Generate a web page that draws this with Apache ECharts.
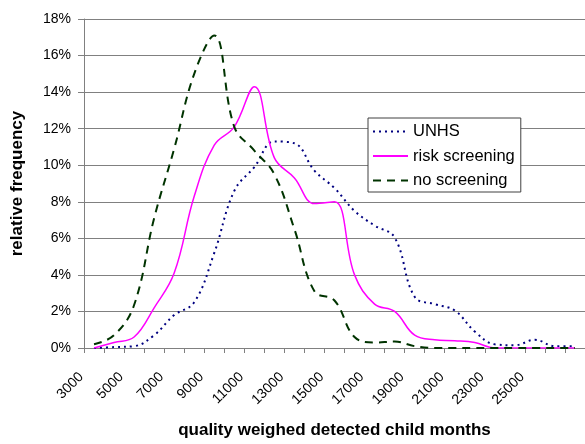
<!DOCTYPE html>
<html><head><meta charset="utf-8">
<script src="https://cdn.jsdelivr.net/npm/echarts@6/dist/echarts.min.js"></script>
<style>html,body{margin:0;padding:0;background:#fff}#c{width:585px;height:444px}</style>
</head><body><div id="c"></div>
<script>
var categories = ['3000','4000','5000','6000','7000','8000','9000','10000','11000','12000','13000','14000','15000','16000','17000','18000','19000','20000','21000','22000','23000','24000','25000','26000','27000'];
var unhs = [0,0.05,0.1,0.7,1.8,2.5,5.2,8.6,9.9,11.3,11.2,9.7,8.75,7.5,6.7,6.05,2.8,2.4,2.05,0.9,0.2,0.15,0.45,0.1,0.1];
var riskScreening = [0,0.3,0.6,2.2,4.1,8.3,11.1,12.1,14.3,10.4,9.3,7.9,8.0,4.0,2.4,2.0,0.7,0.45,0.4,0.3,0,0,0,0,0];
var noScreening = [0.2,0.7,2.35,7.1,10.9,15.0,17.1,12.1,10.8,9.5,6.5,3.1,2.6,0.6,0.3,0.35,0.1,0,0,0,0,0,0,0,0];

var chart = echarts.init(document.getElementById('c'), null, {renderer:'canvas'});
var font = 'Liberation Sans, Arial, sans-serif';
chart.setOption({
  animation:false,
  backgroundColor:'#ffffff',
  grid:{left:84, top:19, width:511, height:332.7, containLabel:false},
  legend:{
    orient:'vertical', left:368, top:118,
    backgroundColor:'#ffffff', borderColor:'#404040', borderWidth:1, borderRadius:0,
    padding:[5,6,3,4], itemGap:7.5, itemWidth:35, itemHeight:12,
    itemStyle:{opacity:0},
    textStyle:{fontFamily:font, fontSize:16.5, color:'#000'},
    data:['UNHS','risk screening','no screening']
  },
  xAxis:{
    type:'category', data:categories, boundaryGap:true,
    name:'quality weighed detected child months', nameLocation:'middle', nameGap:74,
    nameTextStyle:{fontFamily:font, fontSize:17, fontWeight:'bold', color:'#000'},
    axisLine:{lineStyle:{color:'#808080', width:1}},
    axisTick:{show:true, length:5, interval:0, lineStyle:{color:'#808080'}},
    axisLabel:{interval:1, rotate:45, margin:14, padding:[0,18,0,0], showMaxLabel:false,
      fontFamily:font, fontSize:14, color:'#000'},
    splitLine:{show:false}
  },
  yAxis:{
    type:'value', min:0, max:18, interval:2,
    name:'relative frequency', nameLocation:'middle', nameGap:58,
    nameTextStyle:{fontFamily:font, fontSize:17, fontWeight:'bold', color:'#000'},
    axisLine:{show:true, lineStyle:{color:'#808080', width:1}},
    axisTick:{show:true, length:6, lineStyle:{color:'#808080'}},
    axisLabel:{formatter:'{value}%', margin:13, fontFamily:font, fontSize:14, color:'#000'},
    splitLine:{show:true, lineStyle:{color:'#808080', width:1}}
  },
  series:[
    {name:'UNHS', type:'line', data:unhs, smooth:0.4, symbol:'none',
     lineStyle:{color:'#000080', width:2, type:[2,4]}, itemStyle:{color:'#000080'}},
    {name:'risk screening', type:'line', data:riskScreening, smooth:0.4, symbol:'none',
     lineStyle:{color:'#ff00ff', width:1.5, type:'solid'}, itemStyle:{color:'#ff00ff'}},
    {name:'no screening', type:'line', data:noScreening, smooth:0.4, symbol:'none',
     lineStyle:{color:'#003300', width:2, type:[8,6]}, itemStyle:{color:'#003300'}}
  ]
});
</script></body></html>
